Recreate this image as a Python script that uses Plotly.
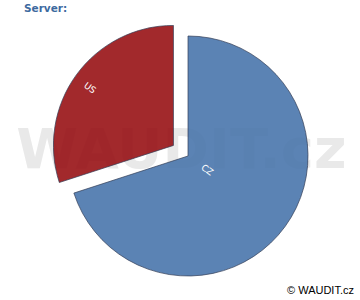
import math
import plotly.graph_objects as go

labels = ["CZ", "US"]
values = [70, 30]
colors = ["#4a76ac", "#981216"]
pulls = [0, 0.15]
label_radius = [0.2, 0.97]   # relative position of the slice label along its bisector

fig = go.Figure()

# watermark underneath the pie (hidden cartesian axes)
fig.add_trace(go.Scatter(
    x=[-0.038], y=[0.015], mode="text", text=["WAUDIT.cz"],
    textfont=dict(family="DejaVu Sans", size=56, color="#e9e9e9", weight="bold"),
    hoverinfo="skip", showlegend=False,
))
fig.update_xaxes(visible=False, range=[-1, 1], fixedrange=True)
fig.update_yaxes(visible=False, range=[-1, 1], fixedrange=True)

fig.add_trace(go.Pie(
    labels=labels, values=values, sort=False, direction="clockwise", rotation=0,
    pull=pulls, opacity=0.9,
    marker=dict(colors=colors, line=dict(color="#1e2a45", width=0.7)),
    textinfo="none",
    showlegend=False, hoverinfo="label+percent",
))

W, H = 360, 300
M = dict(l=16, r=0, t=18, b=6)
pw, ph = W - M["l"] - M["r"], H - M["t"] - M["b"]
R = min(pw, ph) / (2 * (1 + max(pulls)))
total = sum(values)
start = 0.0
for lab, v, p, lr in zip(labels, values, pulls, label_radius):
    mid = (start + v / 2) / total * 2 * math.pi
    start += v
    dist = (p + lr) * R
    dx = math.sin(mid) * dist
    dy = math.cos(mid) * dist
    ang = math.degrees(mid) - 90
    while ang > 90:
        ang -= 180
    while ang < -90:
        ang += 180
    fig.add_annotation(text=lab, x=0.5 + dx / pw, y=0.5 + dy / ph,
                       xref="paper", yref="paper", showarrow=False, textangle=ang,
                       font=dict(family="DejaVu Sans", size=9, color="white"))

fig.add_annotation(text="© WAUDIT.cz", x=1, y=0, xref="paper", yref="paper",
                   xanchor="right", yanchor="bottom", xshift=-4, yshift=-4,
                   showarrow=False,
                   font=dict(family="Liberation Sans", size=11, color="black"))
fig.update_layout(
    width=W, height=H, margin=M,
    paper_bgcolor="white", plot_bgcolor="white",
    title=dict(text="<b>Server:</b>", x=0, xref="paper", xanchor="left",
               y=1, yref="container", yanchor="top", pad=dict(t=5, l=8),
               font=dict(family="DejaVu Sans", size=10.5, color="#3d6aa0")),
)
fig.write_html("out.html")
